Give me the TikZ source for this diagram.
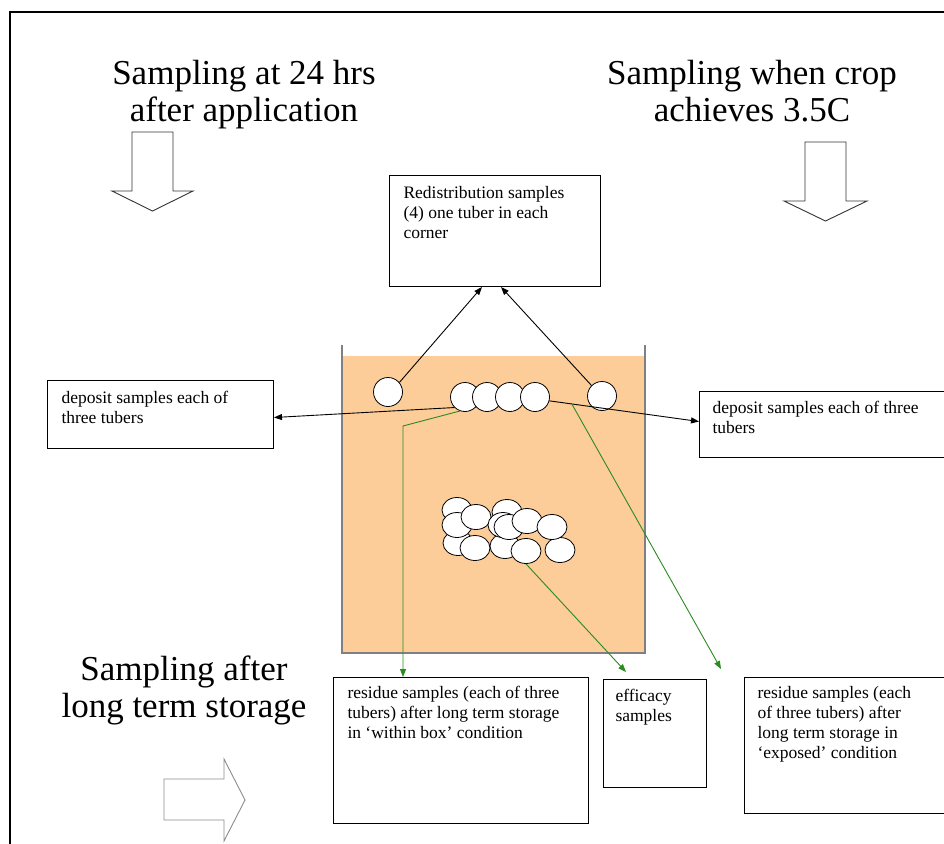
\documentclass[tikz,border=0pt]{standalone}
\usepackage{fontspec}
\setmainfont{Liberation Serif}
\usetikzlibrary{arrows.meta,shapes.geometric}
\definecolor{cratefill}{RGB}{252,204,153}
\definecolor{tracegreen}{RGB}{40,140,30}
\newcommand{\boxtxt}[3]{\parbox[t][#2][t]{#1}{\raggedright #3}}

\begin{document}
\begin{tikzpicture}[x=1pt,y=-1pt,
    bigtxt/.style={font=\fontsize{35}{37}\selectfont, align=center, anchor=north, inner sep=0pt},
    sample/.style={draw, line width=1pt, anchor=north west, font=\fontsize{17.5}{20}\selectfont},
    tuber/.style={circle, draw, fill=white, line width=0.8pt, minimum size=29pt, inner sep=0pt},
    pile/.style={ellipse, draw, fill=white, line width=0.8pt, minimum width=30pt, minimum height=25pt, inner sep=0pt},
    take/.style={line width=0.9pt, -{Triangle[length=8pt,width=6pt]}},
    gtake/.style={take, tracegreen},
    blockarrow/.style={draw=black!80, fill=white, line width=0.9pt}]
  \useasboundingbox (0,0) rectangle (944,843);
  % frame
  \draw[line width=2pt] (10,870) -- (10,12) -- (970,12);

  % headings and block arrows
  \node[bigtxt] (t24) at (244,60) {Sampling at 24 hrs\\after application};
  \node[bigtxt] (tcrop) at (752,60) {Sampling when crop\\achieves 3.5C};
  \node[bigtxt] (tlong) at (184,656) {Sampling after\\long term storage};
  \draw[blockarrow] (132,132) -- (173,132) -- (173,191) -- (193,191) -- (152.5,211) -- (112,191) -- (132,191) -- cycle;
  \draw[blockarrow] (805,142) -- (846,142) -- (846,201) -- (867,201) -- (825.5,221) -- (784,201) -- (805,201) -- cycle;
  \draw[blockarrow, draw=black!45] (164,779) -- (224,779) -- (224,759) -- (245,800) -- (224,841) -- (224,820) -- (164,820) -- cycle;

  % storage box
  \fill[cratefill] (343,356) rectangle (644,653);
  \draw[black!50, line width=1.2pt] (342,345) -- (342,653) -- (645,653) -- (645,345);

  % sample boxes
  \node[sample, inner xsep=14pt, inner ysep=11pt] (redist) at (389,175)
    {\boxtxt{183pt}{89pt}{Redistribution samples\\(4) one tuber in each\\corner}};
  \node[sample, inner xsep=14pt, inner ysep=11pt] (depL) at (47,380)
    {\boxtxt{198pt}{46pt}{deposit samples each of\\three tubers}};
  \node[sample, inner xsep=13pt, inner ysep=10pt] (depR) at (699,391)
    {\boxtxt{234pt}{46pt}{deposit samples each of three\\tubers}};
  \node[sample, inner xsep=14pt, inner ysep=9pt] (wbox) at (333,677)
    {\boxtxt{227pt}{128pt}{residue samples (each of three\\tubers) after long term storage\\in `within box' condition}};
  \node[sample, inner xsep=12pt, inner ysep=10pt] (effbox) at (603,679)
    {\boxtxt{79pt}{88pt}{efficacy\\samples}};
  \node[sample, inner xsep=13pt, inner ysep=9pt] (expbox) at (744,677)
    {\boxtxt{184pt}{118pt}{residue samples (each\\of three tubers) after\\long term storage in\\`exposed' condition}};

  % corner and top-row tubers
  \node[tuber] (tl) at (388,392) {};
  \node[tuber] (tr) at (602,396) {};
  \node[tuber] (g1) at (465,397) {};
  \node[tuber] (g2) at (487,397) {};
  \node[tuber] (g3) at (510,397) {};
  \node[tuber] (g4) at (535,397) {};

  % tubers left in the box
  \node[pile] (c1) at (457,510) {};
  \node[pile] (c2) at (458,543) {};
  \node[pile] (c3) at (457,525) {};
  \node[pile] (c4) at (476,517) {};
  \node[pile] (c5) at (475,548) {};
  \node[pile] (c6) at (507,512) {};
  \node[pile] (c7) at (505,546) {};
  \node[pile] (c8) at (503,525) {};
  \node[pile] (c9) at (509,527) {};
  \node[pile] (c10) at (527,521) {};
  \node[pile] (c12) at (560,550) {};
  \node[pile] (c11) at (552,527) {};
  \node[pile] (c13) at (526,551) {};

  % sampling connectors
  \draw[take] (tl.40) -- ([xshift=-13pt]redist.south);
  \draw[take] (tr.135) -- ([xshift=6pt]redist.south);
  \draw[take] (g1.225) -- ([yshift=-3pt]depL.east);
  \draw[take] (g4.-15) -- ([yshift=3pt]depR.west);
  \path (g4.-15) -- ([yshift=3pt]depR.west) coordinate[pos=0.15] (fork);
  \coordinate (kink) at (403,426);
  \draw[gtake] (g1.250) -- (kink) -- (kink |- wbox.north);
  \draw[gtake] (fork) -- ([xshift=-23pt,yshift=8pt]expbox.north west);
  \draw[gtake] (c13.south) -- ([xshift=23pt,yshift=7pt]effbox.north west);
\end{tikzpicture}
\end{document}
